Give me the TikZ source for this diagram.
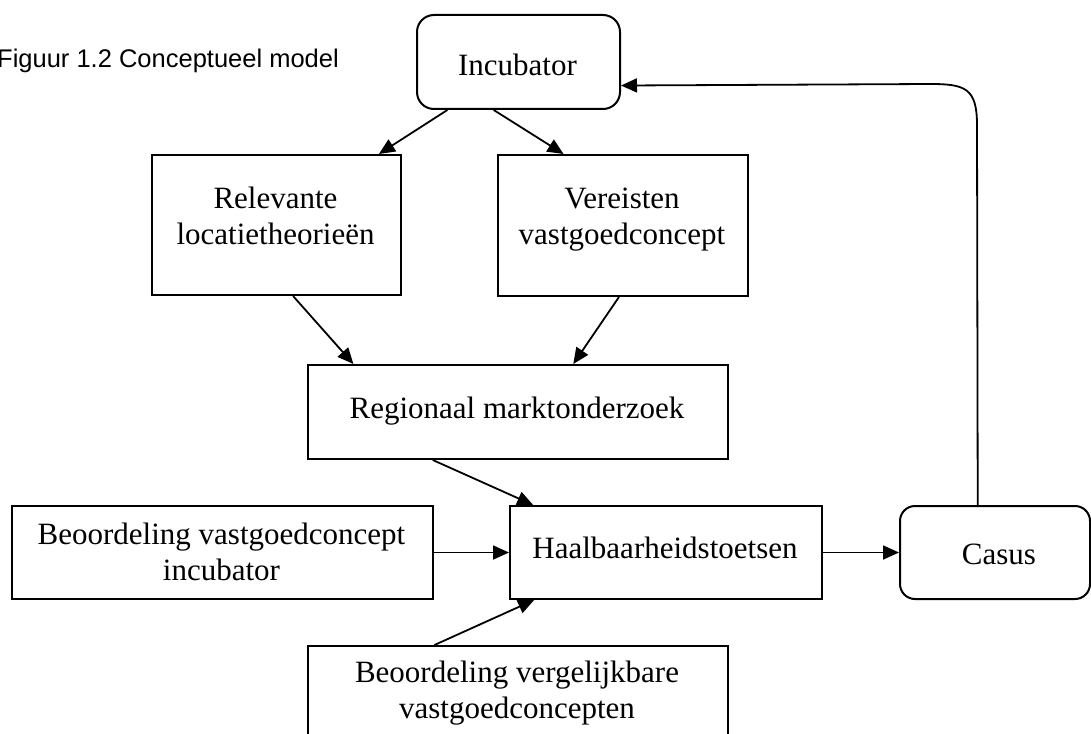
\documentclass[tikz,border=0pt]{standalone}
\usepackage{fontspec}
\setmainfont{Liberation Serif}
\newfontfamily\arialfont{Liberation Sans}
\usetikzlibrary{arrows.meta,calc}
\begin{document}
\begin{tikzpicture}[x=1pt,y=-1pt,
  box/.style={draw, line width=2pt, inner sep=0pt, anchor=north west},
  rbox/.style={box, rounded corners=17pt},
  lbl/.style={font=\fontsize{31}{36}\selectfont, align=center, inner sep=0pt, anchor=base},
  conn/.style={line width=1.8pt, -{Triangle[length=16pt,width=14pt]}},
]
\useasboundingbox (0,0) rectangle (1091,733);

% boxes
\node[rbox, minimum width=203pt, minimum height=94pt] (inc) at (416,14) {};
\node[box, minimum width=249pt, minimum height=140pt] (rel) at (151,154) {};
\node[box, minimum width=250pt, minimum height=141pt] (ver) at (497,154) {};
\node[box, minimum width=420pt, minimum height=94pt] (reg) at (307,364) {};
\node[box, minimum width=421pt, minimum height=93pt] (bvi) at (11,505) {};
\node[box, minimum width=312pt, minimum height=93pt] (haal) at (509,505) {};
\node[rbox, rounded corners=15pt, minimum width=190pt, minimum height=93pt] (cas) at (899,505) {};
\node[box, minimum width=420pt, minimum height=120pt] (bvv) at (307,645) {};

% texts (base anchor of a two-line text is its last line)
\node[inner sep=0pt, anchor=base west, font=\arialfont\fontsize{25.5}{30}\selectfont] (title) at (-3,68) {Figuur 1.2 Conceptueel model};
\node[lbl] (incT) at (517.5,76) {Incubator};
\node[lbl] (relT) at (275.5,244) {Relevante\\locatietheorieën};
\node[lbl] (verT) at (622,244) {Vereisten\\vastgoedconcept};
\node[lbl] (regT) at (517,418) {Regionaal marktonderzoek};
\node[lbl] (bviT) at (221.5,580) {Beoordeling vastgoedconcept\\incubator};
\node[lbl] (haalT) at (665,558) {Haalbaarheidstoetsen};
\node[lbl] (casT) at (999,564) {Casus};
\node[lbl] (bvvT) at (517,718) {Beoordeling vergelijkbare\\vastgoedconcepten};

% connectors
\draw[conn] ($(inc.south west)!0.153!(inc.south east)$) -- ($(rel.north west)!0.908!(rel.north east)$);
\draw[conn] ($(inc.south west)!0.379!(inc.south east)$) -- ($(ver.north west)!0.264!(ver.north east)$);
\draw[conn] ($(rel.south west)!0.566!(rel.south east)$) -- ($(reg.north west)!0.110!(reg.north east)$);
\draw[conn] ($(ver.south west)!0.484!(ver.south east)$) -- ($(reg.north west)!0.631!(reg.north east)$);
\draw[conn] ($(reg.south west)!0.298!(reg.south east)$) -- ($(haal.north west)!0.077!(haal.north east)$);
\draw[conn] (bvi.east) -- (haal.west);
\draw[conn] ($(bvv.north west)!0.302!(bvv.north east)$) -- ($(haal.south west)!0.080!(haal.south east)$);
\draw[conn] (haal.east) -- (cas.west);
\coordinate (k1) at (977,125);
\coordinate (k2) at (930,84);
\draw[conn] ($(cas.north west)!0.41!(cas.north east)$) -- (k1) .. controls +(0,-37) and +(35,0) .. (k2) -- ($(inc.north east)!0.745!(inc.south east)$);
\end{tikzpicture}
\end{document}
